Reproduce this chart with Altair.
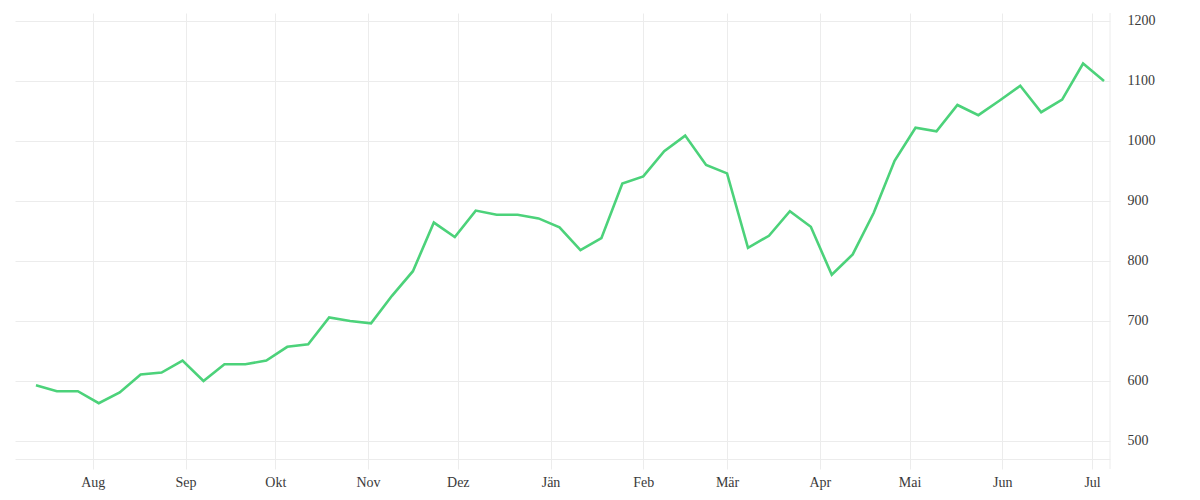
import altair as alt
import pandas as pd

start_date = "2022-07-13"
n_weeks = 52
values = [593, 583, 583, 563, 581, 611, 614, 634, 600, 628,
          628, 634, 657, 661, 706, 700, 696, 742, 783, 864,
          840, 884, 877, 877, 871, 856, 818, 838, 929, 941,
          983, 1009, 960, 946, 822, 842, 883, 857, 777, 811,
          880, 967, 1022, 1016, 1060, 1043, 1067, 1092, 1048, 1069,
          1129, 1100]
month_names = ["Jän", "Feb", "Mär", "Apr", "Mai", "Jun", "Jul", "Aug", "Sep", "Okt", "Nov", "Dez"]
y_ticks = [500, 600, 700, 800, 900, 1000, 1100, 1200]

dates = pd.date_range(start_date, periods=n_weeks, freq="7D")
df = pd.DataFrame({"date": [d.strftime("%Y-%m-%dT00:00:00") for d in dates], "value": values})

tick_dates = [alt.DateTime(year=2022, month=m, date=1) for m in range(8, 13)] + \
             [alt.DateTime(year=2023, month=m, date=1) for m in range(1, 8)]
x_domain = [alt.DateTime(year=2022, month=7, date=6), alt.DateTime(year=2023, month=7, date=7)]

names_js = "[" + ",".join("'%s'" % n for n in month_names) + "]"

grid = "#ececec"
FONT = "Liberation Serif"

line = alt.Chart(df).mark_line(color="#4cd27a", strokeWidth=2.6, clip=False).encode(
    x=alt.X("date:T",
            scale=alt.Scale(domain=x_domain),
            axis=alt.Axis(values=tick_dates, labelExpr=names_js + "[month(datum.value)]",
                          title=None, grid=True, gridColor=grid, tickColor=grid, tickSize=10,
                          domainColor=grid, labelFont=FONT, labelFontSize=14, labelColor="#3a3a3a",
                          labelPadding=6)),
    y=alt.Y("value:Q",
            scale=alt.Scale(domain=[470, 1213.3], nice=False, zero=False),
            axis=alt.Axis(orient="right", values=y_ticks, format="d", title=None, grid=True,
                          gridColor=grid, ticks=False, domain=False, labelFont=FONT,
                          labelFontSize=14, labelColor="#3a3a3a", labelPadding=17)),
)

edge = alt.Chart(pd.DataFrame({"d": ["2023-07-07T00:00:00"]})).mark_rule(color=grid, strokeWidth=1, clip=False).encode(
    x=alt.X("d:T", scale=alt.Scale(domain=x_domain)),
    y=alt.value(0),
    y2=alt.value(456),
)

chart = alt.layer(edge, line).properties(
    width=1095, height=446,
    padding={"left": 7, "top": 4, "right": 5, "bottom": 5},
    view=alt.ViewBackground(strokeWidth=0, stroke="transparent", fill="white"),
).configure_view(strokeWidth=0, stroke="transparent").configure(background="white")

chart.save("out.html", embed_options={"renderer": "svg", "actions": False})
